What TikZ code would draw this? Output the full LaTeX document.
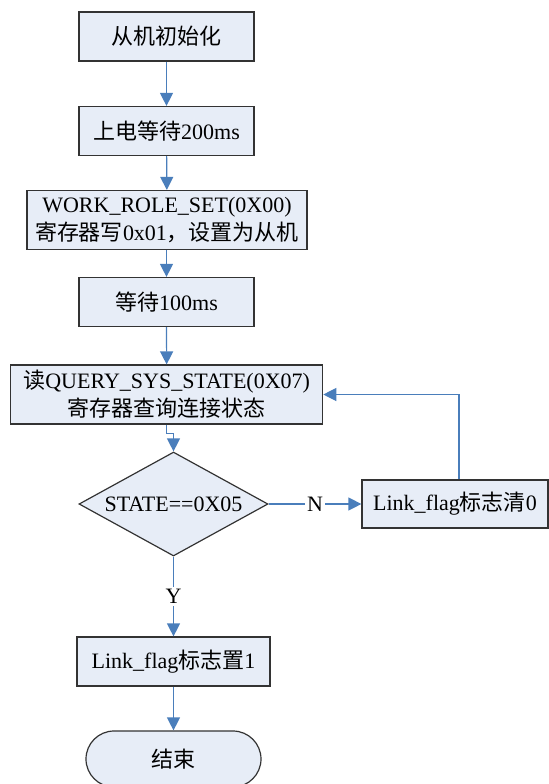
\documentclass[tikz,border=0pt]{standalone}
\usepackage{fontspec}
\setmainfont{Liberation Serif}
\newfontfamily\cjk{Noto Sans CJK SC}
\newcommand{\zh}[1]{{\cjk #1}}
\usepackage{tikz}
\usetikzlibrary{arrows.meta,shapes.geometric}
\definecolor{boxfill}{HTML}{E7EDF7}
\definecolor{flowblue}{HTML}{4A7EBB}

\begin{document}
\begin{tikzpicture}[x=0.5pt, y=-0.5pt,
  box/.style={draw=black!80, fill=boxfill, line width=0.6pt, minimum width=87.5pt,
              minimum height=24.5pt, align=center, inner sep=2pt,
              font=\fontsize{11}{14}\selectfont},
  dec/.style={diamond, draw=black!80, fill=boxfill, line width=0.6pt, aspect=1.82,
              minimum width=94.5pt, minimum height=52pt, inner sep=0pt,
              font=\fontsize{11}{14}\selectfont},
  term/.style={box, rounded corners=14pt, minimum height=28pt},
  arr/.style={-{Triangle[length=6.5pt, width=6.5pt]}, draw=flowblue, line width=0.6pt},
  lbl/.style={fill=white, inner sep=1pt, font=\fontsize{11}{13}\selectfont}
]
\useasboundingbox (0,0) rectangle (549,784);
\clip (0,0) rectangle (549,784);

% Boxes
\node[box] (init) at (166.5,36.5) {\zh{从机初始化}};
\node[box] (pwr) at (166.5,131) {\zh{上电等待}200ms};
\node[box, minimum width=140pt, minimum height=29.5pt] (role) at (167,220)
  {WORK\_ROLE\_SET(0X00)\\\zh{寄存器写}0x01\zh{，设置为从机}};
\node[box] (wait) at (166.5,302) {\zh{等待}100ms};
\node[box, minimum width=156pt, minimum height=29.5pt] (query) at (166.7,394.5)
  {\zh{读}QUERY\_SYS\_STATE(0X07)\\\zh{寄存器查询连接状态}};
\node[dec] (chk) at (173.5,504) {STATE==0X05};
\node[box, minimum width=93pt, minimum height=24pt] (clr) at (455,504) {Link\_flag\zh{标志清}0};
\node[box, minimum width=96.5pt] (set) at (173.5,661.5) {Link\_flag\zh{标志置}1};
\node[term] (fin) at (173.5,759) {\zh{结束}};

% Arrows
\draw[arr] (init) -- (pwr);
\draw[arr] (pwr) -- (role);
\draw[arr] (role.south -| wait.north) -- (wait);
\draw[arr] (wait) -- (query);
\draw[arr] (query.south) -- ++(0,9) -| (chk.north);
\draw[arr] (chk.east) -- node[lbl]{N} (clr.west);
\draw[arr] (chk.south) -- node[lbl]{Y} (set.north);
\draw[arr] (set) -- (fin);
\draw[arr] ([xshift=2pt]clr.north) |- (query.east);

\end{tikzpicture}
\end{document}
